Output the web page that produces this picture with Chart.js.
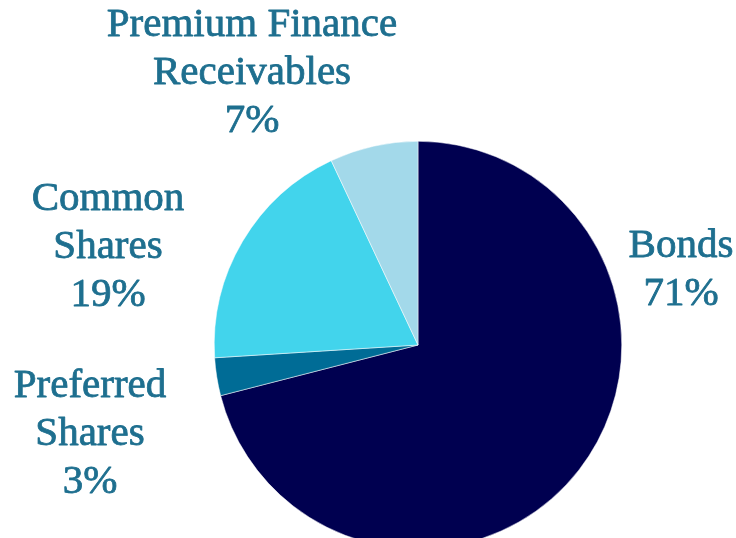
<!DOCTYPE html>
<html>
<head>
<meta charset="utf-8">
<script src="https://cdn.jsdelivr.net/npm/chart.js@4.4.0/dist/chart.umd.min.js"></script>
<style>
    html, body { margin: 0; padding: 0; background: #fff; overflow: hidden; }
    #wrap { position: relative; width: 736px; height: 560px; }
</style>
</head>
<body>
<div id="wrap"><canvas id="assetChart"></canvas></div>
<script>
// Portföy dağılımı (yüzde)
const categories = ['Bonds', 'Preferred Shares', 'Common Shares', 'Premium Finance Receivables'];
const shares = [71, 3, 19, 7];
const sliceColors = ['#000050', '#006C96', '#42D4EC', '#A3D9EA'];

// Etiket satırları ve konumları (merkez x, ilk satır y)
const labelLines = [
    ['Bonds'],
    ['Preferred', 'Shares'],
    ['Common', 'Shares'],
    ['Premium Finance', 'Receivables']
];
const labelPos = [
    { x: 681, y: 246 },
    { x: 90, y: 386 },
    { x: 108, y: 199 },
    { x: 252, y: 25 }
];

const sliceLabels = {
    id: 'sliceLabels',
    afterDraw(chart) {
        const ctx = chart.ctx;
        ctx.save();
        ctx.fillStyle = '#1E6F8F';
        ctx.strokeStyle = '#1E6F8F';
        ctx.lineWidth = 0.8; // yazıyı biraz kalınlaştır
        ctx.lineJoin = 'round';
        ctx.font = '41px "Liberation Serif", serif';
        ctx.textAlign = 'center';
        ctx.textBaseline = 'middle';
        const values = chart.data.datasets[0].data;
        labelLines.forEach((lines, i) => {
            const p = labelPos[i];
            const all = lines.concat([values[i] + '%']);
            all.forEach((t, j) => {
                ctx.fillText(t, p.x, p.y + j * 48);
                ctx.strokeText(t, p.x, p.y + j * 48);
            });
        });
        ctx.restore();
    }
};

const ctx = document.getElementById('assetChart').getContext('2d');
new Chart(ctx, {
    type: 'pie',
    data: {
        labels: categories,
        datasets: [{
            data: shares,
            backgroundColor: sliceColors,
            borderColor: '#ffffff',
            borderWidth: 0.5
        }]
    },
    options: {
        responsive: true,
        maintainAspectRatio: false,
        animation: false,
        layout: { padding: { left: 214, right: 114, top: 141, bottom: 11 } },
        plugins: {
            legend: { display: false },
            tooltip: { enabled: false }
        }
    },
    plugins: [sliceLabels]
});
</script>
</body>
</html>
